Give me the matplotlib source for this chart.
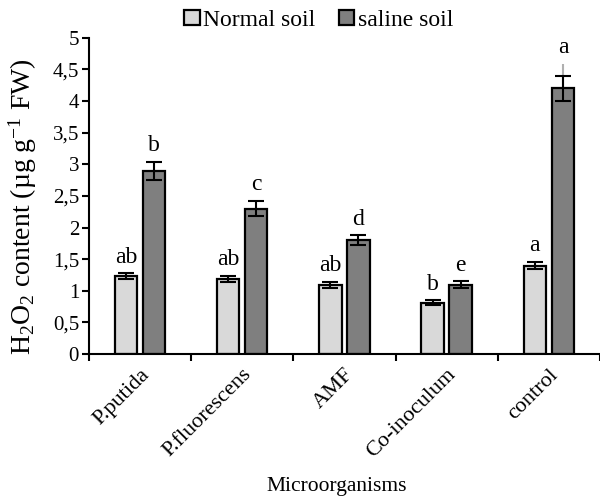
import numpy as np
import matplotlib
matplotlib.use("Agg")
import matplotlib.pyplot as plt
from matplotlib.ticker import FuncFormatter

categories = ["P.putida", "P.fluorescens", "AMF", "Co-inoculum", "control"]
normal = [1.23, 1.19, 1.09, 0.81, 1.40]
normal_err = [0.05, 0.05, 0.05, 0.04, 0.06]
saline = [2.90, 2.30, 1.80, 1.10, 4.20]
saline_err = [0.14, 0.12, 0.08, 0.05, 0.20]
normal_letters = ["ab", "ab", "ab", "b", "a"]
saline_letters = ["b", "c", "d", "e", "a"]

plt.rcParams["font.family"] = ["Liberation Serif", "DejaVu Serif"]
plt.rcParams["mathtext.fontset"] = "custom"
plt.rcParams["mathtext.rm"] = "Liberation Serif"
plt.rcParams["mathtext.it"] = "Liberation Serif:italic"

fig = plt.figure(figsize=(6, 4.98), dpi=100)
ax = fig.add_axes([0.148, 0.289, 0.852, 0.635])

x = np.arange(len(categories))
w = 0.22
off = 0.137

ax.bar(x - off, normal, w, color="#d9d9d9", edgecolor="black", linewidth=1.6,
       label="Normal soil", zorder=2)
ax.bar(x + off, saline, w, color="#7f7f7f", edgecolor="black", linewidth=1.6,
       label="saline soil", zorder=2)

# faint grey whisker above the control saline bar
ax.errorbar(x[-1] + off, saline[-1], yerr=[[0], [0.39]], fmt="none",
            ecolor="#b0b0b0", elinewidth=1.5, capsize=0, zorder=2.5)
ax.errorbar(x - off, normal, yerr=normal_err, fmt="none", ecolor="black",
            elinewidth=1.5, capsize=6, capthick=1.5, zorder=3)
ax.errorbar(x + off, saline, yerr=saline_err, fmt="none", ecolor="black",
            elinewidth=1.5, capsize=6, capthick=1.5, zorder=3)

for i in range(len(categories)):
    ax.annotate(normal_letters[i], (x[i] - off, normal[i] + normal_err[i]),
                xytext=(0, 4), textcoords="offset points",
                ha="center", va="bottom", fontsize=17)
    top = saline[i] + saline_err[i]
    if i == len(categories) - 1:
        top = saline[i] + 0.39
    ax.annotate(saline_letters[i], (x[i] + off, top),
                xytext=(0, 4), textcoords="offset points",
                ha="center", va="bottom", fontsize=17)

ax.set_xlim(-0.5, len(categories) - 0.5)
ax.set_ylim(0, 5)
ax.set_yticks(np.arange(0, 5.01, 0.5))
ax.yaxis.set_major_formatter(FuncFormatter(
    lambda v, p: ("%g" % v).replace(".", ",")))
ax.set_xticks(np.arange(-0.5, len(categories), 1.0))
ax.set_xticklabels([])
ax.set_xticks(x, minor=True)
ax.set_xticklabels(categories, minor=True, rotation=45, ha="right",
                   rotation_mode="anchor", fontsize=16)
ax.tick_params(axis="x", which="minor", length=0, pad=8)
ax.tick_params(axis="x", which="major", length=5, width=1.5, direction="out")
ax.tick_params(axis="y", length=5, width=1.5, labelsize=15, pad=2)

for s in ["top", "right"]:
    ax.spines[s].set_visible(False)
ax.spines["left"].set_linewidth(1.5)
ax.spines["bottom"].set_linewidth(1.5)

ax.set_ylabel(r"H$_2$O$_2$ content (µg g$^{-1}$ FW)", fontsize=20)
ax.yaxis.set_label_coords(-0.098, 0.468)
ax.set_xlabel("Microorganisms", fontsize=15.5)
ax.xaxis.set_label_coords(0.485, -0.39)

ax.legend(loc="lower center", bbox_to_anchor=(0.45, 0.985), ncol=2,
          frameon=False, fontsize=17, handlelength=0.65, handleheight=0.65,
          handletextpad=0.15, columnspacing=1.0, borderpad=0)

fig.savefig("out.png", dpi=100)
